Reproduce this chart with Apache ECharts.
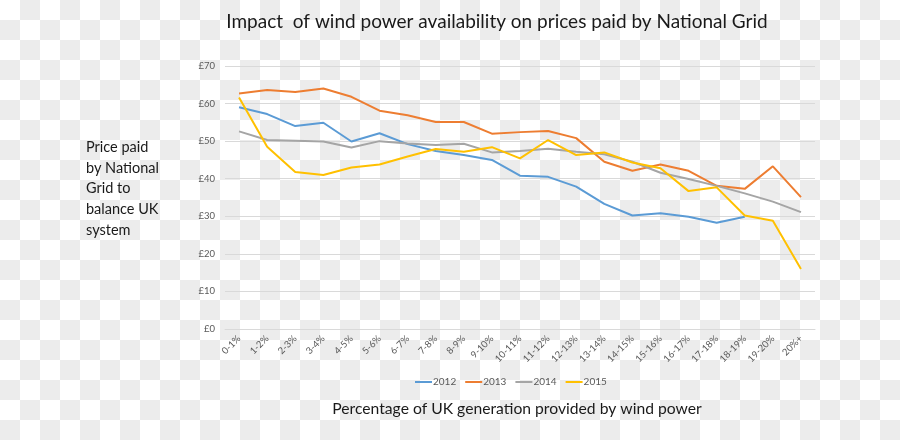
<!DOCTYPE html>
<html><head><meta charset="utf-8">
<script src="https://cdn.jsdelivr.net/npm/echarts@6/dist/echarts.min.js"></script>
<style>
html,body{margin:0;padding:0;}
body{width:900px;height:440px;background-color:#fff;
background-image:conic-gradient(#ececec 0 25%, #fff 0 50%, #ececec 0 75%, #fff 0);
background-size:40px 40px;background-position:0 0;}
#c{width:900px;height:440px;}
</style></head>
<body><div id="c"></div>
<script>
const categories = ["0-1%","1-2%","2-3%","3-4%","4-5%","5-6%","6-7%","7-8%","8-9%","9-10%","10-11%","11-12%","12-13%","13-14%","14-15%","15-16%","16-17%","17-18%","18-19%","19-20%","20%+"];
const s2012 = [59.0,57.2,54.0,54.9,49.9,52.1,49.2,47.4,46.3,45.0,40.8,40.5,37.9,33.3,30.2,30.8,29.9,28.3,29.9,null,null];
const s2013 = [62.7,63.6,63.1,64.0,61.8,58.1,56.9,55.1,55.1,52.0,52.4,52.7,50.8,44.5,42.1,43.8,42.1,38.1,37.3,43.3,35.1];
const s2014 = [52.6,50.3,50.1,49.9,48.3,50.0,49.4,49.0,49.3,47.0,47.4,48.0,47.2,46.5,44.5,41.6,39.9,38.1,36.1,33.9,31.1];
const s2015 = [61.6,48.5,41.8,41.0,43.0,43.8,45.9,47.9,47.2,48.4,45.4,50.3,46.3,47.0,44.3,42.8,36.7,37.7,30.2,28.8,16.0];
const seriesNames = ["2012","2013","2014","2015"];
const colors = ["#5B9BD5","#ED7D31","#A5A5A5","#FFC000"];
const yLabels = ["£0","£10","£20","£30","£40","£50","£60","£70"];

const FONT = "Lato, 'Liberation Sans', sans-serif";
const chart = echarts.init(document.getElementById('c'), null, {renderer:'canvas'});
const data = [s2012,s2013,s2014,s2015];
chart.setOption({
  animation:false,
  backgroundColor:'transparent',
  color: colors,
  title:[{
    text:"Impact  of wind power availability on prices paid by National Grid",
    left:492, top:7, textAlign:'center',
    textStyle:{fontFamily:FONT,fontSize:19,fontWeight:'normal',color:'#1a1a1a'}
  },{
    text:"Price paid\nby National\nGrid to\nbalance UK\nsystem",
    left:81, top:132,
    textStyle:{fontFamily:FONT,fontSize:14.5,fontWeight:'normal',color:'#1a1a1a',lineHeight:20.7}
  },{
    text:"Percentage of UK generation provided by wind power",
    left:512, top:396, textAlign:'center',
    textStyle:{fontFamily:FONT,fontSize:15.7,fontWeight:'normal',color:'#1a1a1a'}
  }],
  legend:{
    data:seriesNames, left:410, top:372, itemWidth:17, itemHeight:2, itemGap:9,
    icon:'rect',
    textStyle:{fontFamily:FONT,fontSize:10,color:'#595959',padding:[0,0,0,-4]}
  },
  grid:{left:225,right:85,top:66,bottom:111,containLabel:false},
  xAxis:{
    type:'category', data:categories, boundaryGap:true,
    axisLine:{show:true,lineStyle:{color:'#d9d9d9'}},
    axisTick:{show:false},
    axisLabel:{rotate:45,fontFamily:FONT,fontSize:9.5,color:'#595959',margin:8,interval:0}
  },
  yAxis:{
    type:'value', min:0, max:70, interval:10,
    axisLine:{show:false}, axisTick:{show:false},
    splitLine:{lineStyle:{color:'#d9d9d9'}},
    axisLabel:{fontFamily:FONT,fontSize:9.5,color:'#595959',margin:10,
      formatter:(v)=>yLabels[Math.round(v/10)]}
  },
  series: seriesNames.map((n,i)=>({
    name:n, type:'line', data:data[i], symbol:'none', smooth:false,
    lineStyle:{width:2,color:colors[i]}, itemStyle:{color:colors[i]}
  }))
});
</script></body></html>
